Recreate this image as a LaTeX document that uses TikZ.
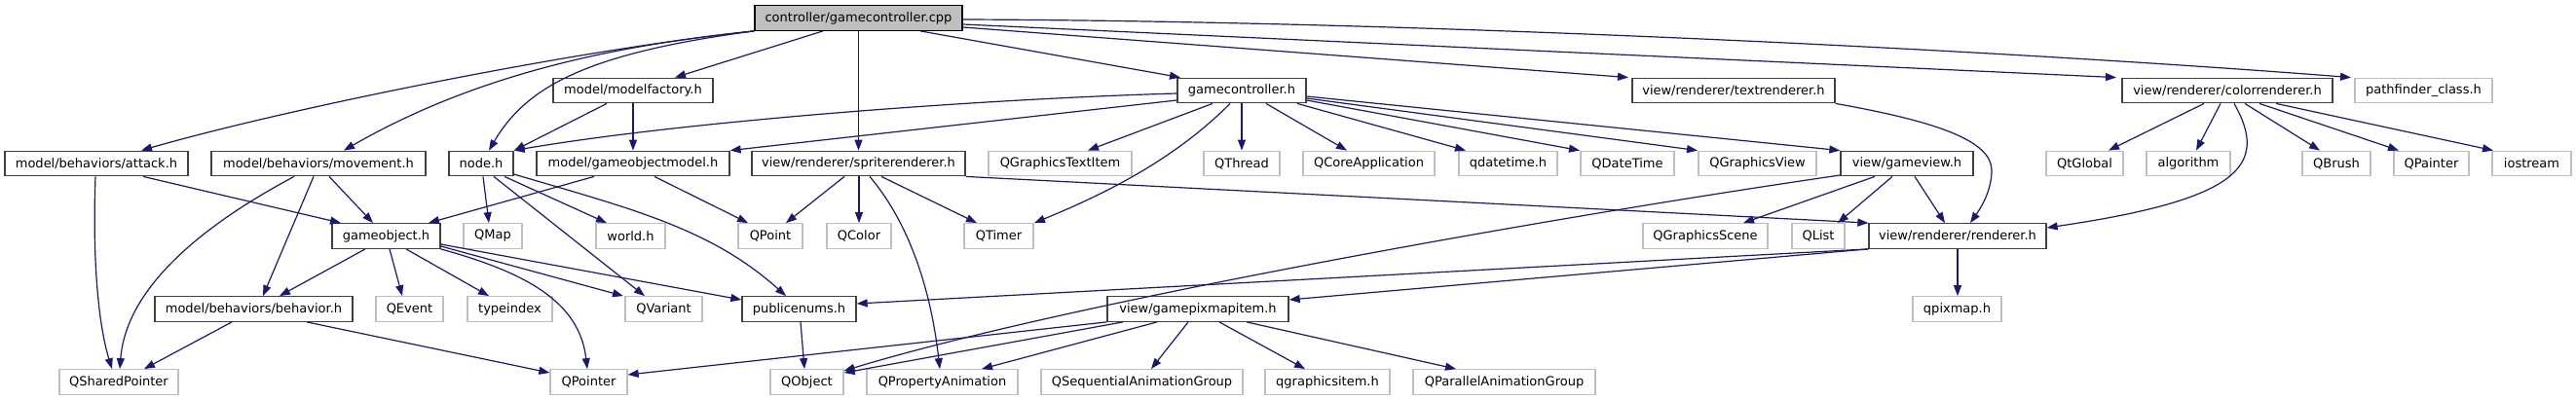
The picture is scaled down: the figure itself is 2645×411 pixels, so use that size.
\documentclass[tikz,border=0pt]{standalone}
\usepackage{fontspec}
\setmainfont{DejaVu Sans}
\usetikzlibrary{arrows.meta}
\definecolor{edgec}{HTML}{191970}
\definecolor{grl}{HTML}{BFBFBF}
\definecolor{dkb}{HTML}{404040}
\tikzset{
  basebox/.style={inner sep=0pt, minimum height=25.5pt, line width=1.3pt, font=\fontsize{13}{15}\selectfont},
  doc/.style={basebox, draw=dkb, fill=white},
  ext/.style={basebox, draw=grl, fill=white},
  rootbox/.style={basebox, draw=black, fill=grl},
  edge/.style={draw=edgec, line width=1.2pt, -{Triangle[length=11pt,width=8pt]}}
}
\begin{document}
\begin{tikzpicture}[x=1pt,y=-1pt]
\useasboundingbox[fill=white] (0,0) rectangle (2645,411);
% row 0
\node[rootbox, minimum width=213pt] (gc) at (881.5,18.5) {controller/gamecontroller.cpp};
% row 1
\node[doc, minimum width=164pt] (modelfactory) at (650,93) {model/modelfactory.h};
\node[doc, minimum width=132pt] (gch) at (1275,93) {gamecontroller.h};
\node[doc, minimum width=208pt] (textr) at (1780,93) {view/renderer/textrenderer.h};
\node[doc, minimum width=216pt] (colorr) at (2287,93) {view/renderer/colorrenderer.h};
\node[ext, minimum width=141pt] (pathf) at (2488.5,93) {pathfinder\_class.h};
% row 2
\node[doc, minimum width=188pt] (attack) at (99,168) {model/behaviors/attack.h};
\node[doc, minimum width=220pt] (movement) at (327,168) {model/behaviors/movement.h};
\node[doc, minimum width=66pt] (nodeh) at (494,168) {node.h};
\node[doc, minimum width=198pt] (gom) at (650,168) {model/gameobjectmodel.h};
\node[doc, minimum width=219pt] (sprite) at (881.5,168) {view/renderer/spriterenderer.h};
\node[ext, minimum width=147pt] (qgti) at (1088.5,168) {QGraphicsTextItem};
\node[ext, minimum width=78pt] (qthread) at (1275,168) {QThread};
\node[ext, minimum width=135pt] (qcore) at (1405.5,168) {QCoreApplication};
\node[ext, minimum width=101pt] (qdth) at (1548.5,168) {qdatetime.h};
\node[ext, minimum width=96pt] (qdt) at (1671,168) {QDateTime};
\node[ext, minimum width=121pt] (qgv) at (1804.5,168) {QGraphicsView};
\node[doc, minimum width=136pt] (gameview) at (1958,168) {view/gameview.h};
\node[ext, minimum width=79pt] (qtglobal) at (2140.5,168) {QtGlobal};
\node[ext, minimum width=86pt] (algorithm) at (2247,168) {algorithm};
\node[ext, minimum width=70pt] (qbrush) at (2399,168) {QBrush};
\node[ext, minimum width=77pt] (qpainter) at (2496.5,168) {QPainter};
\node[ext, minimum width=81pt] (iostream) at (2599.5,168) {iostream};
% row 3
\node[doc, minimum width=111pt] (gameobject) at (396.5,242.5) {gameobject.h};
\node[ext, minimum width=60pt] (qmap) at (506,242.5) {QMap};
\node[ext, minimum width=71pt] (world) at (647.5,242.5) {world.h};
\node[ext, minimum width=66pt] (qpoint) at (791,242.5) {QPoint};
\node[ext, minimum width=66pt] (qcolor) at (882,242.5) {QColor};
\node[ext, minimum width=71pt] (qtimer) at (1025.5,242.5) {QTimer};
\node[ext, minimum width=128pt] (qgs) at (1751,242.5) {QGraphicsScene};
\node[ext, minimum width=54pt] (qlist) at (1867,242.5) {QList};
\node[doc, minimum width=182pt] (renderer) at (2010,242.5) {view/renderer/renderer.h};
% row 4
\node[doc, minimum width=203pt] (behavior) at (260.5,317.5) {model/behaviors/behavior.h};
\node[ext, minimum width=69pt] (qevent) at (420.5,317.5) {QEvent};
\node[ext, minimum width=87pt] (typeindex) at (523.5,317.5) {typeindex};
\node[ext, minimum width=79pt] (qvariant) at (681.5,317.5) {QVariant};
\node[doc, minimum width=117pt] (publicenums) at (820.5,317.5) {publicenums.h};
\node[doc, minimum width=186pt] (gpi) at (1230,317.5) {view/gamepixmapitem.h};
\node[ext, minimum width=91pt] (qpixmap) at (2009.5,317.5) {qpixmap.h};
% row 5
\node[ext, minimum width=122pt] (qsp) at (122,392.5) {QSharedPointer};
\node[ext, minimum width=79pt] (qpointer) at (604.5,392.5) {QPointer};
\node[ext, minimum width=75pt] (qobject) at (828.5,392.5) {QObject};
\node[ext, minimum width=155pt] (qpa) at (967.5,392.5) {QPropertyAnimation};
\node[ext, minimum width=207pt] (qsag) at (1172.5,392.5) {QSequentialAnimationGroup};
\node[ext, minimum width=128pt] (qgi) at (1363,392.5) {qgraphicsitem.h};
\node[ext, minimum width=187pt] (qpag) at (1544.5,392.5) {QParallelAnimationGroup};

% edges from gamecontroller.cpp
\draw[edge] (gc.south west) .. controls (600,50) and (300,110) .. (attack.north -| 145,0);
\draw[edge] (gc.south west) .. controls (650,45) and (500,70) .. (movement.north -| 353,0);
\draw[edge] (gc.south west) .. controls (600,55) and (540,90) .. (nodeh.north -| 502,0);
\draw[edge] (gc.south -| 845,0) -- (modelfactory.north -| 693,0);
\draw[edge] (gc.south) -- (sprite.north);
\draw[edge] (gc.south -| 945,0) -- (gch.north -| 1212,0);
\draw[edge] (gc.east |- 0,28) -- (textr.north -| 1672,0);
\draw[edge] (gc.east |- 0,25) -- (colorr.north -| 2173,0);
\draw[edge] (gc.east |- 0,20) .. controls (1500,22) and (2100,55) .. (pathf.north -| 2414,0);
% modelfactory
\draw[edge] (modelfactory.south -| 623,0) -- (nodeh.north -| 528,0);
\draw[edge] (modelfactory.south) -- (gom.north);
% gamecontroller.h
\draw[edge] (gch.west |- 0,96) .. controls (1000,102) and (700,125) .. (nodeh.north east);
\draw[edge] (gch.west |- 0,103) -- (gom.north east);
\draw[edge] (gch.south -| 1245,0) -- (qgti.north -| 1117,0);
\draw[edge] (gch.south -| 1263,0) .. controls (1200,170) and (1120,205) .. (qtimer.north -| 1062,0);
\draw[edge] (gch.south) -- (qthread.north);
\draw[edge] (gch.south -| 1300,0) -- (qcore.north -| 1383,0);
\draw[edge] (gch.south -| 1332,0) -- (qdth.north -| 1505,0);
\draw[edge] (gch.east |- 0,103) -- (qdt.north -| 1622,0);
\draw[edge] (gch.east |- 0,101) -- (qgv.north -| 1743,0);
\draw[edge] (gch.east |- 0,99) -- (gameview.north west);
% node.h
\draw[edge] (nodeh.south -| 496,0) -- (qmap.north -| 502,0);
\draw[edge] (nodeh.south -| 507,0) -- (qvariant.north -| 662,0);
\draw[edge] (nodeh.south -| 518,0) -- (world.north -| 623,0);
\draw[edge] (nodeh.east |- 0,179) .. controls (650,215) and (730,235) .. (publicenums.north -| 807,0);
% gameobjectmodel.h
\draw[edge] (gom.south -| 610,0) -- (gameobject.north -| 440,0);
\draw[edge] (gom.south -| 672,0) -- (qpoint.north -| 768,0);
% spriterenderer.h
\draw[edge] (sprite.south -| 867,0) -- (qpoint.north -| 807,0);
\draw[edge] (sprite.south -| 882,0) -- (qcolor.north);
\draw[edge] (sprite.south -| 905,0) -- (qtimer.north -| 1003,0);
\draw[edge] (sprite.south -| 893,0) .. controls (930,225) and (955,290) .. (qpa.north -| 965,0);
\draw[edge] (sprite.south east) -- (renderer.north west);
% gameobject.h
\draw[edge] (gameobject.south -| 375,0) -- (behavior.north -| 287,0);
\draw[edge] (gameobject.south -| 400,0) -- (qevent.north -| 413,0);
\draw[edge] (gameobject.south -| 417,0) -- (typeindex.north -| 502,0);
\draw[edge] (gameobject.east |- 0,253) -- (qvariant.north -| 640,0);
\draw[edge] (gameobject.east |- 0,251) -- (publicenums.west |- 0,308);
\draw[edge] (gameobject.south east) .. controls (540,280) and (595,310) .. (qpointer.north -| 603,0);
% attack.h
\draw[edge] (attack.south -| 98,0) .. controls (95,260) and (100,330) .. (qsp.north -| 115,0);
\draw[edge] (attack.south -| 147,0) -- (gameobject.north -| 350,0);
% movement.h
\draw[edge] (movement.south -| 302,0) .. controls (220,225) and (130,290) .. (qsp.north -| 123,0);
\draw[edge] (movement.south -| 322,0) -- (behavior.north -| 270,0);
\draw[edge] (movement.south -| 338,0) -- (gameobject.north -| 383,0);
% behavior.h
\draw[edge] (behavior.south -| 238,0) -- (qsp.north -| 148,0);
\draw[edge] (behavior.south -| 315,0) -- (qpointer.west |- 0,383);
% publicenums.h
\draw[edge] (publicenums.south -| 822,0) -- (qobject.north -| 826,0);
% renderer.h
\draw[edge] (renderer.south -| 2010,0) -- (qpixmap.north -| 2010,0);
\draw[edge] (renderer.south west) -- (publicenums.east |- 0,312);
\draw[edge] (renderer.south west) -- (gpi.east |- 0,308);
% gameview.h
\draw[edge] (gameview.west |- 0,180) .. controls (1600,222) and (1100,310) .. (qobject.east |- 0,381);
\draw[edge] (gameview.south -| 1925,0) -- (qgs.north -| 1790,0);
\draw[edge] (gameview.south -| 1943,0) -- (qlist.north -| 1887,0);
\draw[edge] (gameview.south -| 1966,0) -- (renderer.north -| 1997,0);
% textrenderer.h
\draw[edge] (textr.south east) .. controls (1990,125) and (2045,145) .. (2045,175) .. controls (2045,195) and (2035,212) .. (renderer.north -| 2023,0);
% colorrenderer.h
\draw[edge] (colorr.south -| 2263,0) -- (qtglobal.north -| 2165,0);
\draw[edge] (colorr.south -| 2280,0) -- (algorithm.north -| 2255,0);
\draw[edge] (colorr.south -| 2294,0) .. controls (2330,170) and (2300,205) .. (renderer.east |- 0,234);
\draw[edge] (colorr.south -| 2305,0) -- (qbrush.north -| 2382,0);
\draw[edge] (colorr.south -| 2320,0) -- (qpainter.north -| 2463,0);
\draw[edge] (colorr.south -| 2337,0) -- (iostream.north -| 2560,0);
% gamepixmapitem.h
\draw[edge] (gpi.south west) -- (qpointer.east |- 0,385);
\draw[edge] (gpi.south -| 1153,0) -- (qobject.east |- 0,383);
\draw[edge] (gpi.south -| 1188,0) -- (qpa.north -| 1008,0);
\draw[edge] (gpi.south -| 1220,0) -- (qsag.north -| 1182,0);
\draw[edge] (gpi.south -| 1252,0) -- (qgi.north -| 1340,0);
\draw[edge] (gpi.south -| 1280,0) -- (qpag.north -| 1495,0);
\end{tikzpicture}
\end{document}
